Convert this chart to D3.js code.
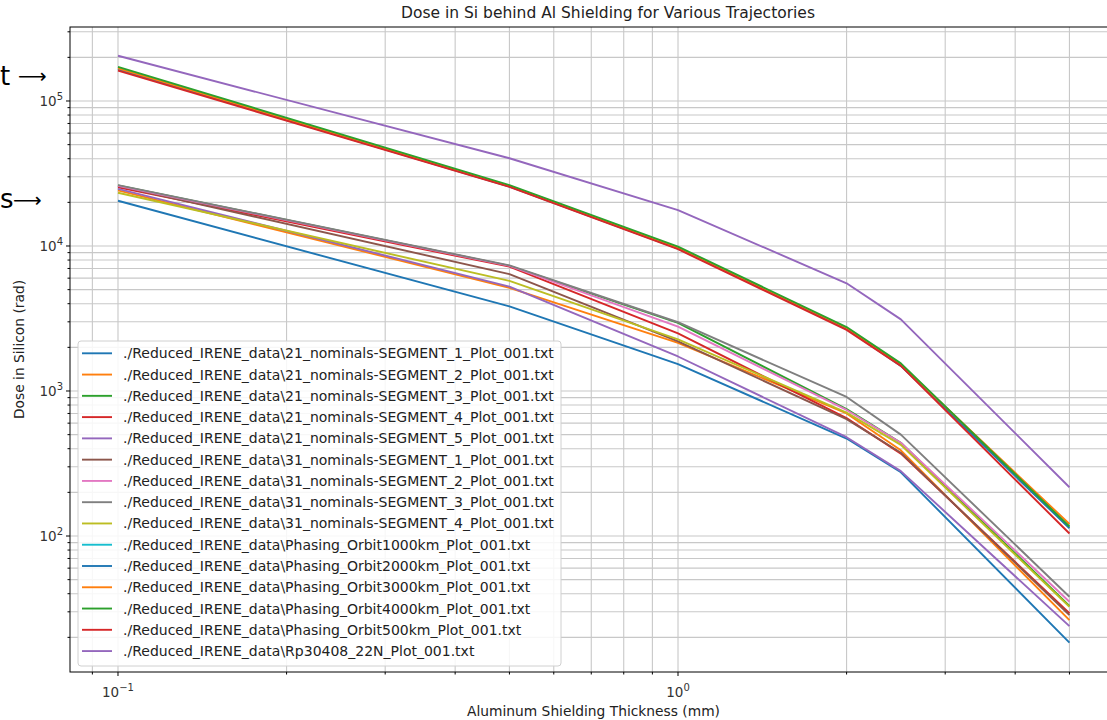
<!DOCTYPE html>
<html><head><meta charset="utf-8">
<script src="https://cdn.jsdelivr.net/npm/d3@7"></script>
<style>body{margin:0;background:#fff}svg{display:block;font-family:"DejaVu Sans",sans-serif}</style>
</head><body><svg id="c" width="1107" height="720"></svg>
<script>
const thickness = [0.1, 0.5, 1, 2, 2.5, 5];
const seriesNames = [
 "./Reduced_IRENE_data\\21_nominals-SEGMENT_1_Plot_001.txt",
 "./Reduced_IRENE_data\\21_nominals-SEGMENT_2_Plot_001.txt",
 "./Reduced_IRENE_data\\21_nominals-SEGMENT_3_Plot_001.txt",
 "./Reduced_IRENE_data\\21_nominals-SEGMENT_4_Plot_001.txt",
 "./Reduced_IRENE_data\\21_nominals-SEGMENT_5_Plot_001.txt",
 "./Reduced_IRENE_data\\31_nominals-SEGMENT_1_Plot_001.txt",
 "./Reduced_IRENE_data\\31_nominals-SEGMENT_2_Plot_001.txt",
 "./Reduced_IRENE_data\\31_nominals-SEGMENT_3_Plot_001.txt",
 "./Reduced_IRENE_data\\31_nominals-SEGMENT_4_Plot_001.txt",
 "./Reduced_IRENE_data\\Phasing_Orbit1000km_Plot_001.txt",
 "./Reduced_IRENE_data\\Phasing_Orbit2000km_Plot_001.txt",
 "./Reduced_IRENE_data\\Phasing_Orbit3000km_Plot_001.txt",
 "./Reduced_IRENE_data\\Phasing_Orbit4000km_Plot_001.txt",
 "./Reduced_IRENE_data\\Phasing_Orbit500km_Plot_001.txt",
 "./Reduced_IRENE_data\\Rp30408_22N_Plot_001.txt"
];
const nom21seg1 = [20500, 3830, 1530, 470, 275, 18.4];
const nom21seg2 = [24200, 5150, 2150, 700, 390, 26.3];
const nom21seg3 = [26200, 7300, 2950, 750, 440, 33];
const nom21seg4 = [25400, 7200, 2500, 650, 370, 29.3];
const nom21seg5 = [24800, 5250, 1730, 480, 280, 23.9];
const nom31seg1 = [26000, 6400, 2200, 640, 375, 28.5];
const nom31seg2 = [26000, 7300, 2780, 740, 440, 35.2];
const nom31seg3 = [26300, 7350, 2980, 910, 500, 38.1];
const nom31seg4 = [23300, 5750, 2270, 710, 425, 32.5];
const phase1000 = [167000, 25900, 9700, 2700, 1510, 117];
const phase2000 = [165000, 25700, 9600, 2680, 1490, 113];
const phase3000 = [168000, 26000, 9750, 2720, 1520, 121];
const phase4000 = [172000, 26300, 9900, 2760, 1550, 116];
const phase500  = [162000, 25600, 9500, 2640, 1490, 104];
const rp30408   = [205000, 40300, 17700, 5530, 3120, 217];
const seriesValues = [nom21seg1, nom21seg2, nom21seg3, nom21seg4, nom21seg5, nom31seg1, nom31seg2, nom31seg3, nom31seg4, phase1000, phase2000, phase3000, phase4000, phase500, rp30408];
const colors = ["#1f77b4","#ff7f0e","#2ca02c","#d62728","#9467bd","#8c564b","#e377c2","#7f7f7f","#bcbd22","#17becf","#1f77b4","#ff7f0e","#2ca02c","#d62728","#9467bd"];
const xMajor = [0.1, 1];
const xMinor = [0.09, 0.2, 0.3, 0.4, 0.5, 0.6, 0.7, 0.8, 0.9, 2, 3, 4, 5, 6];
const yMajor = [100, 1000, 10000, 100000];
const expLabels = {0.1: "\u22121", 1: "0", 100: "2", 1000: "3", 10000: "4", 100000: "5"};
const titleText = "Dose in Si behind Al Shielding for Various Trajectories";
const xLabel = "Aluminum Shielding Thickness (mm)";
const yLabel = "Dose in Silicon (rad)";
const sideNotes = ["t", "s"];

const L = 70, R = 1117, T = 27, B = 672;
const svg = d3.select("#c");
const x = d3.scaleLog().domain([Math.pow(10, -1.0857), Math.pow(10, 0.7839)]).range([L, R]);
const y = d3.scaleLog().domain([Math.pow(10, 1.0621), Math.pow(10, 5.5103)]).range([B, T]);

const yMinor = [];
for (let e = 1; e <= 5; e++) for (let m = 2; m <= 9; m++) { const v = m * Math.pow(10, e); if (y(v) >= T && y(v) <= B) yMinor.push(v); }

const grid = svg.append("g").attr("stroke", "#c8c8c8").attr("stroke-width", 1.1);
xMinor.concat(xMajor).forEach(v => grid.append("line").attr("x1", x(v)).attr("x2", x(v)).attr("y1", T).attr("y2", B));
yMinor.concat(yMajor).forEach(v => grid.append("line").attr("x1", L).attr("x2", R).attr("y1", y(v)).attr("y2", y(v)));

svg.append("clipPath").attr("id", "pc").append("rect").attr("x", L).attr("y", T).attr("width", R - L).attr("height", B - T);
const line = d3.line().x(d => x(d[0])).y(d => y(d[1]));
const lines = svg.append("g").attr("clip-path", "url(#pc)");
seriesValues.forEach((vals, i) => {
  lines.append("path").datum(thickness.map((t, j) => [t, vals[j]])).attr("d", line)
    .attr("fill", "none").attr("stroke", colors[i]).attr("stroke-width", 1.9).attr("stroke-linejoin", "round");
});

svg.append("rect").attr("x", L).attr("y", T).attr("width", R - L).attr("height", B - T).attr("fill", "none").attr("stroke", "#000").attr("stroke-width", 1);

const tk = svg.append("g").attr("stroke", "#000").attr("stroke-width", 1);
xMajor.forEach(v => tk.append("line").attr("x1", x(v)).attr("x2", x(v)).attr("y1", B).attr("y2", B + 4));
xMinor.forEach(v => tk.append("line").attr("x1", x(v)).attr("x2", x(v)).attr("y1", B).attr("y2", B + 2.5));
yMajor.forEach(v => tk.append("line").attr("x1", L - 4).attr("x2", L).attr("y1", y(v)).attr("y2", y(v)));
yMinor.forEach(v => tk.append("line").attr("x1", L - 2.5).attr("x2", L).attr("y1", y(v)).attr("y2", y(v)));

function powLabel(g, px, py, anchor, v) {
  const t = g.append("text").attr("x", px).attr("y", py).attr("text-anchor", anchor).attr("font-size", 13.5).attr("fill", "#333");
  t.append("tspan").text("10");
  t.append("tspan").attr("dy", -6).attr("font-size", 10).text(expLabels[v]);
}
xMajor.forEach(v => powLabel(svg, x(v), 697, "middle", v));
yMajor.forEach(v => powLabel(svg, L - 7, y(v) + 5, "end", v));

svg.append("text").attr("x", 608).attr("y", 18).attr("text-anchor", "middle").attr("font-size", 15.5).attr("fill", "#222").text(titleText);
svg.append("text").attr("x", (L + R) / 2).attr("y", 716).attr("text-anchor", "middle").attr("font-size", 13.8).attr("fill", "#222").text(xLabel);
svg.append("text").attr("transform", `translate(24,${(T + B) / 2}) rotate(-90)`).attr("text-anchor", "middle").attr("font-size", 13.8).attr("fill", "#222").text(yLabel);

const lg = svg.append("g");
lg.append("rect").attr("x", 78).attr("y", 341).attr("width", 483).attr("height", 325).attr("rx", 3)
  .attr("fill", "#fff").attr("fill-opacity", 0.85).attr("stroke", "#d0d0d0");
seriesNames.forEach((n, i) => {
  const cy = 353.3 + i * 21.27;
  lg.append("line").attr("x1", 82).attr("x2", 112).attr("y1", cy).attr("y2", cy).attr("stroke", colors[i]).attr("stroke-width", 1.9);
  lg.append("text").attr("x", 123).attr("y", cy + 5).attr("font-size", 14).attr("fill", "#222").text(n);
});

// cropped slide annotations at left edge
const notes = [{t: sideNotes[0], by: 85, ax: 18, ay: 76}, {t: sideNotes[1], by: 208, ax: 13, ay: 200}];
notes.forEach(n => {
  svg.append("text").attr("x", 0).attr("y", n.by).attr("font-size", 26).attr("fill", "#000").text(n.t);
  svg.append("text").attr("x", n.ax).attr("y", n.ay + 7).attr("font-size", 20).attr("fill", "#000").text("\u27F6");
});
</script></body></html>
